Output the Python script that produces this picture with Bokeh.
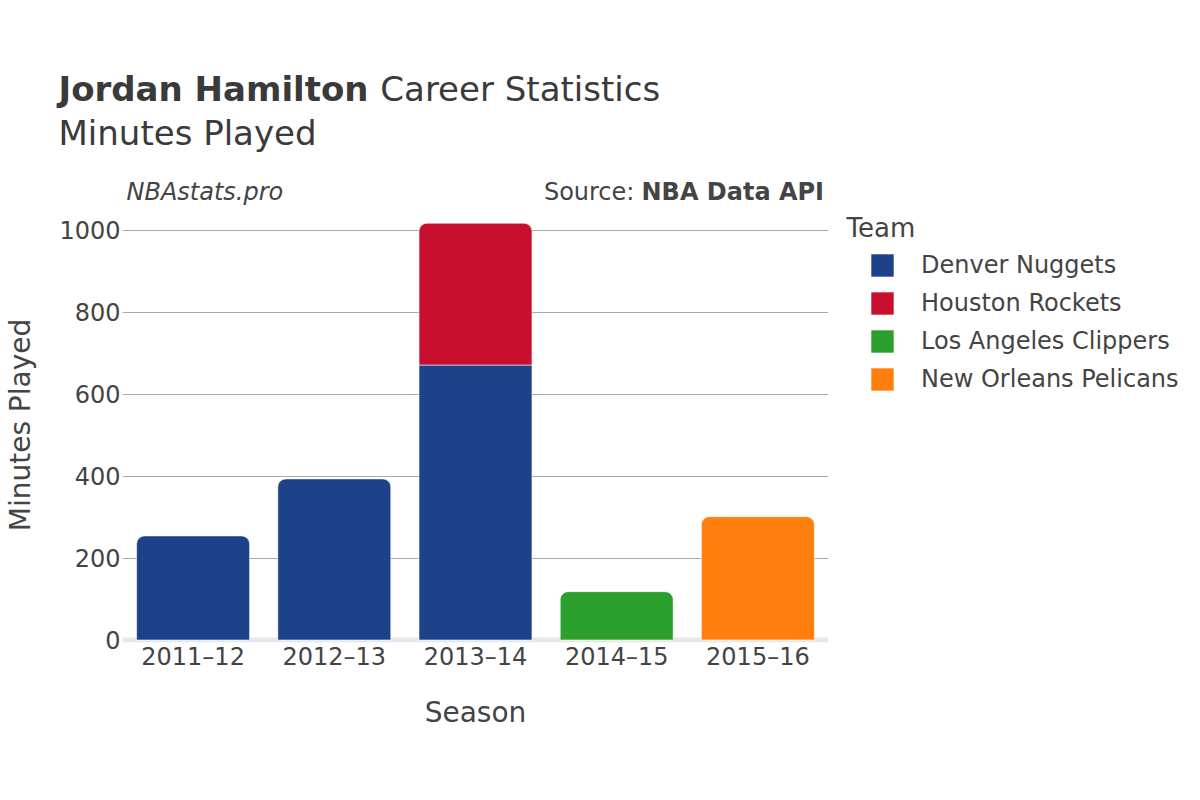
import math
from bokeh.plotting import figure
from bokeh.layouts import column, row
from bokeh.models import (ColumnDataSource, FactorRange, Range1d, Label, Legend, LegendItem,
                          Span, FixedTicker)
from bokeh.embed import file_html
from bokeh.resources import INLINE

# ---- data ----
seasons = ["2011–12", "2012–13", "2013–14", "2014–15", "2015–16"]
teams = ["Denver Nuggets", "Houston Rockets", "Los Angeles Clippers", "New Orleans Pelicans"]
denver = [254, 393, 671, 0, 0]
houston = [0, 0, 346, 0, 0]
clippers = [0, 0, 0, 118, 0]
pelicans = [0, 0, 0, 0, 301]
colors = ["#1D428A", "#C8102E", "#2CA02C", "#FF7F0E"]
y_ticks = [0, 200, 400, 600, 800, 1000]

series = [denver, houston, clippers, pelicans]

FONT = "DejaVu Sans"
TXT = "#444444"
TITLE = "#3a3a3a"

W, H = 1184, 784
HEAD_H = 207
MAIN_W = 828
BODY_H = H - HEAD_H
FRAME_BOTTOM = 642   # page y of the plot frame bottom


def blank(width, height, x_range=(0, 1)):
    f = figure(width=width, height=height, x_range=x_range, y_range=(0, 1),
               x_axis_location=None, y_axis_location=None,
               output_backend="svg", toolbar_location=None, min_border=0,
               background_fill_color="white", border_fill_color="white")
    f.title = None
    f.outline_line_color = None
    f.grid.visible = False
    return f


def lab(fig, text, x, y, size_px, style="normal", align="left", angle=0, color=TXT):
    fig.add_layout(Label(text=text, x=x, y=y + 0.33 * size_px, x_units="screen", y_units="screen",
                         text_font=FONT, text_font_size=f"{size_px}px", text_font_style=style,
                         text_color=color, text_align=align, text_baseline="alphabetic",
                         angle=angle))


# ---- header (titles) ----
head = blank(W, HEAD_H)
lab(head, "Jordan Hamilton", 58, HEAD_H - 99.5, 34, "bold", color=TITLE)
lab(head, "Career Statistics", 379.8, HEAD_H - 99.5, 34, color=TITLE)
lab(head, "Minutes Played", 58, HEAD_H - 143.3, 34, color=TITLE)
lab(head, "NBAstats.pro", 126, HEAD_H - 199.3, 24, "italic")
lab(head, "Source: ", 543.4, HEAD_H - 199.3, 24)
lab(head, "NBA Data API", 641, HEAD_H - 199.3, 24, "bold")

# ---- main chart ----
px_per_unit = 0.4098
frame_h = FRAME_BOTTOM - HEAD_H
y_start = -(FRAME_BOTTOM - 639.5) / px_per_unit
y_end = y_start + frame_h / px_per_unit

p = figure(x_range=FactorRange(*seasons, range_padding=0),
           y_range=Range1d(y_start, y_end),
           width=MAIN_W, height=BODY_H,
           output_backend="svg", toolbar_location=None,
           min_border_left=122, min_border_right=0,
           min_border_top=0, min_border_bottom=H - FRAME_BOTTOM,
           background_fill_color="white", border_fill_color="white")
p.title = None
p.outline_line_color = None

# legend panel figure (its frame is aligned with the main frame)
side = blank(W - MAIN_W, BODY_H, x_range=FactorRange(*seasons, range_padding=0))

n = len(seasons)
bottoms = [0] * n
top_idx = []
for i in range(n):
    t = -1
    for k, s in enumerate(series):
        if s[i] > 0:
            t = k
    top_idx.append(t)

bar_style = dict(line_color="white", line_width=0.8, line_alpha=0.7)
legend_items = []
for k, (team, vals, col) in enumerate(zip(teams, series, colors)):
    rx, rb, rt = [], [], []
    sx, sb, st = [], [], []
    for i in range(n):
        v = vals[i]
        if v > 0:
            if top_idx[i] == k:
                rx.append(seasons[i]); rb.append(bottoms[i]); rt.append(bottoms[i] + v)
            else:
                sx.append(seasons[i]); sb.append(bottoms[i]); st.append(bottoms[i] + v)
            bottoms[i] += v
    src_r = ColumnDataSource(dict(x=rx, b=rb, t=rt))
    p.vbar(x="x", bottom="b", top="t", width=0.8, source=src_r,
           fill_color=col, border_radius=(8, 8, 0, 0), **bar_style)
    if sx:
        p.vbar(x="x", bottom="b", top="t", width=0.8,
               source=ColumnDataSource(dict(x=sx, b=sb, t=st)),
               fill_color=col, **bar_style)
    # legend swatch renderer in the legend panel (same data, hidden)
    lr = side.vbar(x="x", bottom="b", top="t", width=0.8, source=src_r,
                   fill_color=col, line_color=None, visible=False)
    legend_items.append(LegendItem(label=team, renderers=[lr]))

p.yaxis.ticker = FixedTicker(ticks=y_ticks)
p.ygrid.ticker = FixedTicker(ticks=y_ticks[1:])
p.ygrid.grid_line_color = "#aaaaaa"
p.ygrid.grid_line_width = 1
p.xgrid.grid_line_color = None
for ax in (p.xaxis[0], p.yaxis[0]):
    ax.axis_line_color = None
    ax.major_tick_line_color = None
    ax.minor_tick_line_color = None
    ax.major_tick_out = 0
    ax.major_tick_in = 0
    ax.major_label_text_font = FONT
    ax.major_label_text_font_size = "24px"
    ax.major_label_text_color = TXT
    ax.axis_label_text_font = FONT
    ax.axis_label_text_font_size = "28px"
    ax.axis_label_text_font_style = "normal"
    ax.axis_label_text_color = TXT
p.yaxis.major_label_standoff = 2
p.xaxis.major_label_standoff = 0
p.xaxis.axis_label = "Season"
p.yaxis.axis_label = "Minutes Played"
p.xaxis.axis_label_standoff = 22
p.yaxis.axis_label_standoff = 19

p.add_layout(Span(location=0, dimension="width", line_color="#e8e8e8",
                  line_width=5, level="underlay"))

legend = Legend(items=legend_items, location=(40, FRAME_BOTTOM - 398.3), orientation="vertical",
                padding=0, spacing=0, margin=0,
                glyph_width=28, glyph_height=28, label_height=38, label_standoff=25,
                label_text_font=FONT, label_text_font_size="24px", label_text_color=TXT,
                inactive_fill_alpha=0,
                background_fill_alpha=0, border_line_alpha=0)
side.add_layout(legend)
lab(side, "Team", 18, FRAME_BOTTOM - 236, 26)

layout = column(head, row(p, side, spacing=0), spacing=0)

open("out.html", "w").write(file_html(layout, INLINE))
